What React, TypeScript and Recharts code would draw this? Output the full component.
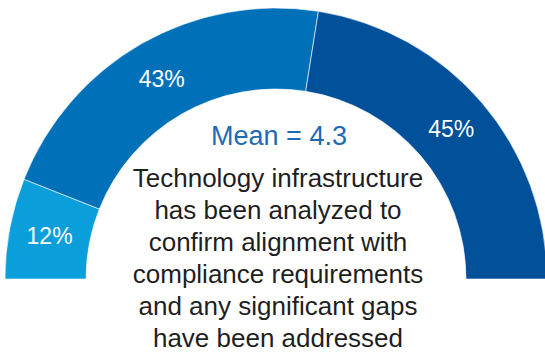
import React from "react";
import { PieChart, Pie, Cell } from "recharts";

const categories = ["Low", "Medium", "High"];
const values = [12, 43, 45];
const colors = ["#0a9edb", "#0071b9", "#00509a"];
const meanLabel = "Mean = 4.3";
const statementLines = [
  "Technology infrastructure",
  "has been analyzed to",
  "confirm alignment with",
  "compliance requirements",
  "and any significant gaps",
  "have been addressed",
];

const data = categories.map((name, i) => ({ name, value: values[i] }));
const RAD = Math.PI / 180;
const FONT = "'Liberation Sans', Arial, sans-serif";

const renderLabel = (props: any) => {
  const { cx, cy, midAngle, innerRadius, outerRadius, value } = props;
  const r = (innerRadius + outerRadius) / 2;
  const x = cx + r * Math.cos(-midAngle * RAD);
  const y = cy + r * Math.sin(-midAngle * RAD);
  return (
    <text
      x={x}
      y={y}
      fill="#ffffff"
      textAnchor="middle"
      dominantBaseline="central"
      fontFamily={FONT}
      fontSize={23}
    >
      {value}%
    </text>
  );
};

export default function App() {
  return (
    <div style={{ position: "absolute", left: 0, top: 0, width: 545, height: 352, background: "#fff" }}>
      <PieChart width={545} height={352} margin={{ top: 0, right: 0, bottom: 0, left: 0 }}>
        <Pie
          data={data}
          dataKey="value"
          nameKey="name"
          cx={276}
          cy={279}
          startAngle={180}
          endAngle={0}
          innerRadius={190}
          outerRadius={271}
          stroke="#ffffff"
          strokeWidth={0.6}
          label={renderLabel}
          labelLine={false}
          isAnimationActive={false}
        >
          {data.map((d, i) => (
            <Cell key={d.name} fill={colors[i]} />
          ))}
        </Pie>
      </PieChart>
      <div
        style={{
          position: "absolute",
          left: 0,
          width: 558,
          top: 120,
          textAlign: "center",
          fontFamily: FONT,
          fontSize: 27,
          lineHeight: "32px",
          color: "#1e6ab4",
        }}
      >
        {meanLabel}
      </div>
      <div
        style={{
          position: "absolute",
          left: 0,
          width: 556,
          top: 162,
          textAlign: "center",
          fontFamily: FONT,
          fontSize: 26,
          lineHeight: "32px",
          color: "#1f1f1f",
        }}
      >
        {statementLines.map((l) => (
          <div key={l}>{l}</div>
        ))}
      </div>
    </div>
  );
}
